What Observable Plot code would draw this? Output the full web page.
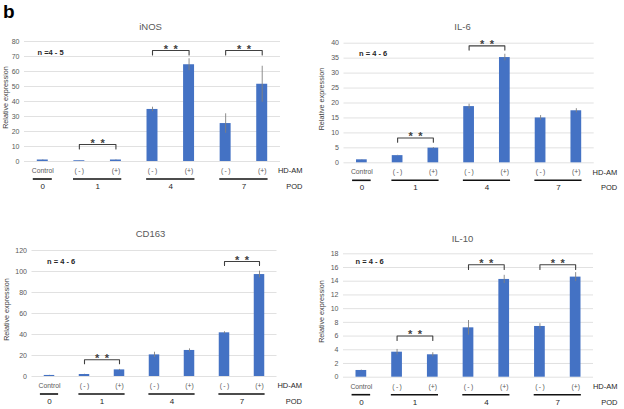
<!DOCTYPE html>
<html><head><meta charset="utf-8">
<script src="https://cdn.jsdelivr.net/npm/d3@7"></script>
<script src="https://cdn.jsdelivr.net/npm/@observablehq/plot@0.6"></script>
<style>
html,body{margin:0;padding:0;background:#fff;}
#fig{position:relative;width:624px;height:409px;overflow:hidden;font-family:"Liberation Sans",Arial,sans-serif;}
.panel{position:absolute;}
#tag{position:absolute;left:3px;top:1px;line-height:18px;font:bold 19px "Liberation Sans",Arial,sans-serif;color:#000;}
</style></head><body>
<div id="fig"><div id="tag">b</div></div>
<script>
// ---- shared categories ----
const conditions = ["Control", "(\u2009-\u2009)", "(+)", "(\u2009-\u2009)", "(+)", "(\u2009-\u2009)", "(+)"];
const podOfCondition = ["0", "1", "1", "4", "4", "7", "7"];
const podGroups = ["0", "1", "4", "7"];
const factorLabel = "HD-AM";
const groupLabel = "POD";
const yLabel = "Relative expression";
const sigLabel = "*\u2002*";

// ---- iNOS ----
const inosTitle = "iNOS";
const inosN = "n =4 - 5";
const inosValues = [1.0, 0.5, 1.0, 34.7, 64.5, 25.3, 51.5];
const inosErrors = [0.2, 0.1, 0.2, 1.5, 4.0, 6.5, 12.0];
const inosTicks = [0, 10, 20, 30, 40, 50, 60, 70, 80];
const inosBracketFrom = [1, 3, 5];
const inosBracketTo = [2, 4, 6];
const inosBracketTop = [11.3, 74, 74];
const inosBracketTick = [8.4, 71, 71];

// ---- IL-6 ----
const il6Title = "IL-6";
const il6N = "n = 4 - 6";
const il6Values = [1.0, 2.4, 4.9, 18.8, 35.2, 15.0, 17.4];
const il6Errors = [0.1, 0.1, 0.2, 0.8, 1.1, 0.8, 0.7];
const il6Ticks = [0, 5, 10, 15, 20, 25, 30, 35, 40];
const il6BracketFrom = [1, 3];
const il6BracketTo = [2, 4];
const il6BracketTop = [8.3, 39.1];
const il6BracketTick = [6.9, 37.7];

// ---- CD163 ----
const cd163Title = "CD163";
const cd163N = "n = 4 - 6";
const cd163Values = [1.0, 1.9, 6.3, 20.6, 24.8, 41.6, 97.1];
const cd163Errors = [0.1, 0.2, 0.5, 2.5, 1.5, 1.0, 3.2];
const cd163Ticks = [0, 20, 40, 60, 80, 100, 120];
const cd163BracketFrom = [1, 5];
const cd163BracketTo = [2, 6];
const cd163BracketTop = [15.9, 109.5];
const cd163BracketTick = [12.1, 105.7];

// ---- IL-10 ----
const il10Title = "IL-10";
const il10N = "n = 4 - 6";
const il10Values = [0.98, 3.65, 3.27, 7.2, 14.26, 7.4, 14.6];
const il10Errors = [0.05, 0.4, 0.3, 1.07, 0.6, 0.4, 0.65];
const il10Ticks = [0, 2, 4, 6, 8, 10, 12, 14, 16, 18];
const il10BracketFrom = [1, 3, 5];
const il10BracketTo = [2, 4, 6];
const il10BracketTop = [6.0, 16.4, 16.4];
const il10BracketTick = [5.35, 15.7, 15.7];

const FONT = '"Liberation Sans", Arial, sans-serif';
const BLUE = "#4472c4";

function panel(cfg) {
  const idx = conditions.map((d, i) => i);
  const plotCenter = (cfg.mL + cfg.w - cfg.mR) / 2;
  const brackets = cfg.bFrom.map((f, k) => ({k, from: f, to: cfg.bTo[k], top: cfg.bTop[k], tick: cfg.bTick[k]}));
  const bracketPts = brackets.flatMap(b => [
    {k: b.k, x: b.from, y: b.tick}, {k: b.k, x: b.from, y: b.top},
    {k: b.k, x: b.to, y: b.top}, {k: b.k, x: b.to, y: b.tick}
  ]);
  const groups = podGroups.map(g => {
    const m = idx.filter(i => podOfCondition[i] === g);
    return {g, first: m[0], last: m[m.length - 1], single: m.length === 1};
  });
  const chart = Plot.plot({
    width: cfg.w, height: cfg.h,
    marginLeft: cfg.mL, marginRight: cfg.mR, marginTop: cfg.mT, marginBottom: cfg.mB,
    style: {fontFamily: FONT, fontSize: "7px", color: "#595959", background: "transparent"},
    x: {domain: [-0.5, 6.5], axis: null},
    y: {domain: cfg.domain, ticks: cfg.ticks, tickSize: 0, tickPadding: 5, label: null},
    marks: [
      Plot.ruleY(cfg.ticks, {stroke: "#d9d9d9", strokeWidth: 0.8}),
      Plot.rectY(idx, {x1: i => i - 0.15, x2: i => i + 0.15, y1: 0, y2: i => cfg.values[i], fill: BLUE}),
      Plot.ruleX(idx, {x: i => i, y1: i => cfg.values[i] - cfg.errors[i], y2: i => cfg.values[i] + cfg.errors[i], stroke: "#808080", strokeWidth: 0.9}),
      Plot.line(bracketPts, {x: "x", y: "y", z: "k", stroke: "#404040", strokeWidth: 1.1}),
      Plot.text(brackets, {x: b => (b.from + b.to) / 2, y: "top", text: () => sigLabel, dy: -1.5, lineAnchor: "middle", fontSize: 11, fontWeight: "bold", fill: "#404040"}),
      Plot.text([cfg.n], {frameAnchor: "top-left", textAnchor: "start", lineAnchor: "middle", dx: cfg.nDx, dy: cfg.nDy, fontSize: 7.5, fontWeight: "bold", fill: "#262626"}),
      Plot.text([cfg.title], {frameAnchor: "top", textAnchor: "middle", lineAnchor: "middle", dx: 150 - plotCenter, dy: cfg.titleDy, fontSize: 9.5, fill: "#595959"}),
      Plot.text([yLabel], {frameAnchor: "left", textAnchor: "middle", lineAnchor: "middle", rotate: -90, dx: cfg.ylabDx, dy: -4, fontSize: 7.2, fill: "#404040"}),
      Plot.text(conditions, {x: (d, i) => i, frameAnchor: "bottom", lineAnchor: "middle", dy: 9.5, fontSize: 6.8, fill: "#595959"}),
      Plot.ruleY(groups, {x1: g => g.first - (g.single ? 0.26 : 0.16), x2: g => g.last + (g.single ? 0.26 : 0.16), y: () => 0, dy: 17.5, stroke: "#111", strokeWidth: 1.6}),
      Plot.text(groups, {x: g => (g.first + g.last) / 2, frameAnchor: "bottom", lineAnchor: "middle", dy: 25, text: "g", fontSize: 8, fill: "#262626"}),
      Plot.text([factorLabel], {frameAnchor: "bottom-right", textAnchor: "end", lineAnchor: "middle", dx: cfg.rDx, dy: 9.5, fontSize: 7.5, fill: "#262626"}),
      Plot.text([groupLabel], {frameAnchor: "bottom-right", textAnchor: "end", lineAnchor: "middle", dx: cfg.rDx, dy: 25, fontSize: 7.5, fill: "#262626"})
    ]
  });
  const div = document.createElement("div");
  div.className = "panel";
  div.style.left = cfg.left + "px";
  div.style.top = cfg.top + "px";
  div.appendChild(chart);
  document.getElementById("fig").appendChild(div);
}

panel({title: inosTitle, n: inosN, values: inosValues, errors: inosErrors, ticks: inosTicks, domain: [0, 80],
  bFrom: inosBracketFrom, bTo: inosBracketTo, bTop: inosBracketTop, bTick: inosBracketTick,
  left: 0, top: 0, w: 312, h: 200, mL: 24, mR: 32, mT: 41, mB: 39, ylabDx: -19, titleDy: -15, nDx: 13, nDy: 11, rDx: 22});
panel({title: il6Title, n: il6N, values: il6Values, errors: il6Errors, ticks: il6Ticks, domain: [0, 40],
  bFrom: il6BracketFrom, bTo: il6BracketTo, bTop: il6BracketTop, bTick: il6BracketTick,
  left: 312, top: 0, w: 312, h: 200, mL: 31.5, mR: 30.3, mT: 42.7, mB: 37.7, ylabDx: -22, titleDy: -16, nDx: 15, nDy: 10, rDx: 23});
panel({title: cd163Title, n: cd163N, values: cd163Values, errors: cd163Errors, ticks: cd163Ticks, domain: [0, 120],
  bFrom: cd163BracketFrom, bTo: cd163BracketTo, bTop: cd163BracketTop, bTick: cd163BracketTick,
  left: 0, top: 200, w: 312, h: 209, mL: 31.5, mR: 35.5, mT: 50, mB: 33, ylabDx: -25, titleDy: -17, nDx: 15, nDy: 11, rDx: 25});
panel({title: il10Title, n: il10N, values: il10Values, errors: il10Errors, ticks: il10Ticks, domain: [0, 18],
  bFrom: il10BracketFrom, bTo: il10BracketTo, bTop: il10BracketTop, bTick: il10BracketTick,
  left: 312, top: 200, w: 312, h: 209, mL: 31, mR: 31, mT: 53.3, mB: 32.3, ylabDx: -22, titleDy: -15, nDx: 12, nDy: 8, rDx: 24});
</script>
</body></html>
